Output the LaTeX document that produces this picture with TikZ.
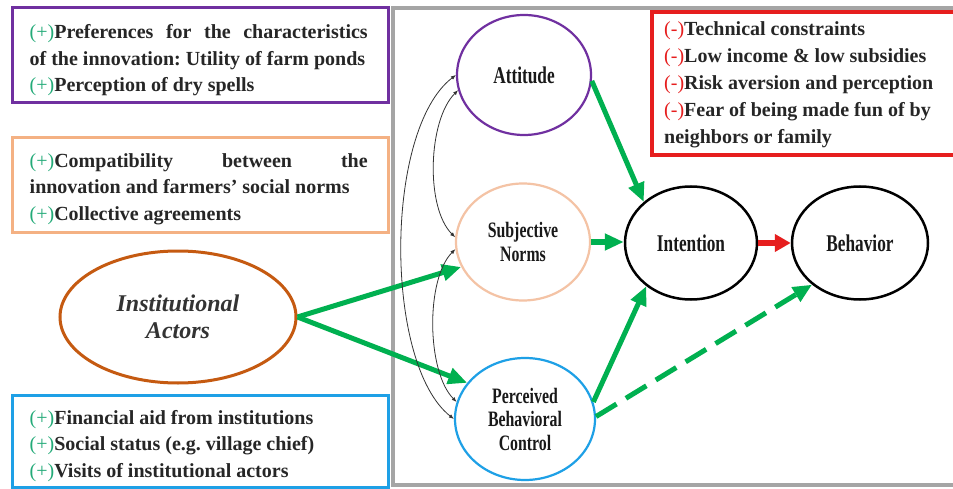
\documentclass[tikz,border=0pt]{standalone}
\usepackage{fontspec}
\setmainfont{Liberation Serif}
\newfontfamily\condfont[FakeStretch=0.72]{Liberation Serif}
\usetikzlibrary{shapes.geometric,arrows.meta}
\definecolor{pgreen}{RGB}{0,176,80}
\definecolor{plusg}{RGB}{35,170,120}
\definecolor{minr}{RGB}{230,30,30}
\definecolor{purp}{RGB}{112,48,160}
\definecolor{peach}{RGB}{244,177,131}
\definecolor{peachc}{RGB}{244,195,165}
\definecolor{skyb}{RGB}{30,160,230}
\definecolor{framegray}{RGB}{165,165,165}
\definecolor{iabrown}{RGB}{197,90,17}
\newcommand{\plusmark}{{\mdseries\textcolor{plusg}{(+)}}}
\newcommand{\minusmark}{{\mdseries\textcolor{minr}{(-)}}}
\frenchspacing
\begin{document}
\begin{tikzpicture}[x=1pt,y=-1pt,
  boxframe/.style={line width=3pt, minimum width=376pt, minimum height=95pt, inner sep=0pt},
  boxtext/.style={anchor=west, inner sep=0pt, align=left, font=\bfseries\fontsize{20}{26.5}\selectfont, text=black!85},
  tpb/.style={ellipse, line width=2.2pt, inner sep=0pt, align=center, text=black!90, font=\condfont\bfseries\fontsize{24}{25}\selectfont},
  tpbsmall/.style={tpb, font=\condfont\bfseries\fontsize{22}{23.5}\selectfont},
  garrow/.style={draw=pgreen, line width=5pt, -{Triangle[length=19pt,width=16pt]}},
  carrow/.style={draw=black!80, line width=0.8pt, {Latex[length=5pt,width=4pt]}-{Latex[length=5pt,width=4pt]}}
]
\useasboundingbox (0,0) rectangle (953,489);
\clip (0,0) rectangle (953,489);
\fill[white] (0,0) rectangle (953,489);

% frame
\draw[framegray, line width=4pt] (393,8) rectangle (970,485);

% left boxes
\node[boxframe, draw=purp] (pref) at (200,55.5) {};
\node[boxtext] (preftext) at ([xshift=19pt,yshift=-5pt]pref.west) {%
\hbox to 338pt{\plusmark Preferences\hfill for\hfill the\hfill characteristics}\\
\mbox{of the innovation: Utility of farm ponds}\\
\plusmark Perception of dry spells};

\node[boxframe, draw=peach] (compat) at (200,185) {};
\node[boxtext] (compattext) at ([xshift=19pt,yshift=-4pt]compat.west) {%
\hbox to 338pt{\plusmark Compatibility\hfill between\hfill the}\\
\mbox{innovation and farmers’ social norms}\\
\plusmark Collective agreements};

\node[boxframe, draw=skyb, minimum height=92pt] (fin) at (200,441) {};
\node[boxtext] (fintext) at ([xshift=19pt,yshift=-5pt]fin.west) {%
\plusmark Financial aid from institutions\\
\plusmark Social status (e.g. village chief)\\
\plusmark Visits of institutional actors};

% red box
\node[draw=minr, line width=4pt, minimum width=320pt, minimum height=143pt, inner sep=0pt, anchor=north west] (consbox) at (650,10) {};
\node[boxtext, font=\bfseries\fontsize{20}{27}\selectfont] (cons) at ([xshift=14pt,yshift=-1pt]consbox.west) {%
\minusmark Technical constraints\\
\minusmark Low income \& low subsidies\\
\minusmark Risk aversion and perception\\
\minusmark Fear of being made fun of by\\
neighbors or family};

% institutional actors
\node[ellipse, draw=iabrown, line width=3pt, minimum width=236pt, minimum height=132pt, inner sep=0pt, align=center, text=black!80, font=\bfseries\itshape\fontsize{24}{27}\selectfont] (ia) at (178,317) {Institutional\\Actors};

% TPB nodes
\node[tpb, draw=purp, minimum width=134pt, minimum height=120pt] (att) at (524,75) {Attitude};
\node[tpbsmall, draw=peachc, minimum width=134pt, minimum height=117pt] (sn) at (523,242) {Subjective\\Norms};
\node[tpbsmall, draw=skyb, minimum width=140pt, minimum height=122pt] (pbc) at (525,419) {Perceived\\Behavioral\\Control};
\node[tpb, draw=black, line width=2.5pt, minimum width=132pt, minimum height=113pt] (int) at (691,243) {Intention};
\node[tpb, draw=black, line width=2.5pt, minimum width=136pt, minimum height=113pt] (beh) at (860,243) {Behavior};

% green arrows
\draw[garrow] (att.-5) -- (int.139);
\draw[garrow] (sn.east) -- (sn.east -| int.west);
\draw[garrow] (pbc.14) -- (int.224);
\draw[garrow, dash pattern=on 24pt off 11pt] (pbc.2) -- (beh.221);
\draw[garrow] (ia.east) -- (sn.202);
\draw[garrow] (ia.east) -- (pbc.148);

% red arrow
\draw[draw=minr, line width=6pt, -{Triangle[length=16pt,width=17pt]}] (int.east) -- (beh.west);

% correlation arrows
\draw[carrow] (att.180) .. controls +(-72,55) and +(-70,-55) .. (pbc.180);
\draw[carrow] (att.193) .. controls +(-30,30) and +(-30,-30) .. (sn.176);
\draw[carrow] (sn.186) .. controls +(-30,30) and +(-30,-30) .. (pbc.166);
\end{tikzpicture}
\end{document}
